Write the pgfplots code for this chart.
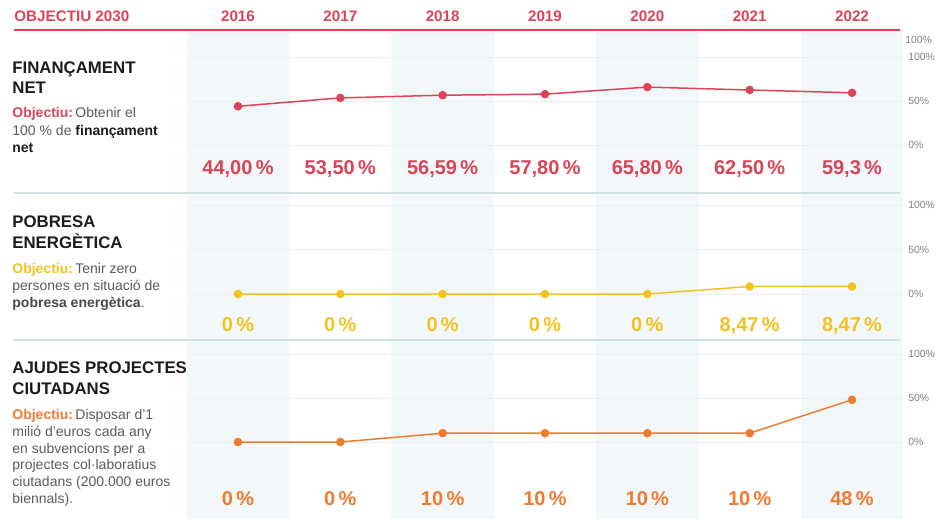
\documentclass[border=0pt]{standalone}
\usepackage{fontspec}
\setmainfont{Liberation Sans}
\usepackage{pgfplots}
\pgfplotsset{compat=1.18}
\definecolor{cred}{HTML}{DC4357}
\definecolor{cyel}{HTML}{F4C21F}
\definecolor{cora}{HTML}{EE7B2F}
\definecolor{band}{HTML}{F2F8F9}
\definecolor{sep}{HTML}{CFE3E4}
\definecolor{txt}{HTML}{5A5A5A}
\definecolor{ttl}{HTML}{1C1C1C}
\definecolor{grd}{HTML}{EBEFEF}
\pgfplotsset{
  panel/.style={scale only axis, width=358.2pt, xmin=-0.5, xmax=6.5, ymin=0, ymax=100,
    anchor=south west, clip=false, axis line style={draw=none}, xtick=\empty,
    ytick={0,50,100}, yticklabels={0\%,50\%,100\%}, yticklabel pos=right,
    major tick length=0pt, ymajorgrids, grid style={grd, line width=0.4pt},
    yticklabel style={font=\fontsize{5.2}{6}\selectfont, text=gray, anchor=west, xshift=-1pt}}
}
\tikzset{val/.style={anchor=base, font=\bfseries\fontsize{10}{12}\selectfont}}
\newcommand{\ttlfont}{\bfseries\fontsize{8.4}{10}\selectfont\color{ttl}}
\newcommand{\dscfont}{\fontsize{7}{8}\selectfont\color{txt}}
\begin{document}
\begin{tikzpicture}[x=0.5pt,y=-0.5pt]
\path[use as bounding box] (0,0) rectangle (936,519);

% background column bands and year headers
\begin{axis}[at={(93.4pt,-259.5pt)}, anchor=south west, scale only axis, width=358.2pt, height=244.5pt,
  xmin=-0.5, xmax=6.5, ymin=0, ymax=1, axis line style={draw=none}, ytick=\empty,
  xtick={0,1,2,3,4,5,6}, xticklabels={2016,2017,2018,2019,2020,2021,2022},
  xticklabel pos=upper, major tick length=0pt,
  xticklabel style={font=\bfseries\fontsize{7.6}{8}\selectfont, text=cred, anchor=base, yshift=4pt}]
\addplot[ybar, bar width=1, fill=band, draw=none] coordinates {(0,1) (2,1) (4,1) (6,1)};
\end{axis}

\node[anchor=base west, inner sep=0pt, text=cred, font=\bfseries\fontsize{7.6}{8}\selectfont] at (14,22) {OBJECTIU 2030};
\draw[cred, line width=0.9pt] (14,30) -- (900,30);
\draw[sep, line width=0.8pt] (14,193) -- (900,193);
\draw[sep, line width=0.8pt] (14,340) -- (900,340);

% Panel 1
\begin{axis}[panel, at={(93.4pt,-72.5pt)}, height=44pt]
\addplot[cred, line width=0.75pt, mark=*, mark size=1.75pt]
  coordinates {(0,44.00) (1,53.50) (2,56.59) (3,57.80) (4,65.80) (5,62.50) (6,59.3)};
\node[val, text=cred] at (axis cs:0,-34) {44,00\,\%};
\node[val, text=cred] at (axis cs:1,-34) {53,50\,\%};
\node[val, text=cred] at (axis cs:2,-34) {56,59\,\%};
\node[val, text=cred] at (axis cs:3,-34) {57,80\,\%};
\node[val, text=cred] at (axis cs:4,-34) {65,80\,\%};
\node[val, text=cred] at (axis cs:5,-34) {62,50\,\%};
\node[val, text=cred] at (axis cs:6,-34) {59,3\,\%};
\node[anchor=west, inner sep=0pt, text=gray, font=\fontsize{5.2}{6}\selectfont] at (axis cs:6.5,119) {\,100\%};
\end{axis}

% Panel 2
\begin{axis}[panel, at={(93.4pt,-147pt)}, height=44.5pt]
\addplot[cyel, line width=0.75pt, mark=*, mark size=1.75pt]
  coordinates {(0,0) (1,0) (2,0) (3,0) (4,0) (5,8.47) (6,8.47)};
\node[val, text=cyel] at (axis cs:0,-41.6) {0\,\%};
\node[val, text=cyel] at (axis cs:1,-41.6) {0\,\%};
\node[val, text=cyel] at (axis cs:2,-41.6) {0\,\%};
\node[val, text=cyel] at (axis cs:3,-41.6) {0\,\%};
\node[val, text=cyel] at (axis cs:4,-41.6) {0\,\%};
\node[val, text=cyel] at (axis cs:5,-41.6) {8,47\,\%};
\node[val, text=cyel] at (axis cs:6,-41.6) {8,47\,\%};
\end{axis}

% Panel 3
\begin{axis}[panel, at={(93.4pt,-221pt)}, height=44pt]
\addplot[cora, line width=0.75pt, mark=*, mark size=1.75pt]
  coordinates {(0,0) (1,0) (2,10) (3,10) (4,10) (5,10) (6,48)};
\node[val, text=cora] at (axis cs:0,-71.6) {0\,\%};
\node[val, text=cora] at (axis cs:1,-71.6) {0\,\%};
\node[val, text=cora] at (axis cs:2,-71.6) {10\,\%};
\node[val, text=cora] at (axis cs:3,-71.6) {10\,\%};
\node[val, text=cora] at (axis cs:4,-71.6) {10\,\%};
\node[val, text=cora] at (axis cs:5,-71.6) {10\,\%};
\node[val, text=cora] at (axis cs:6,-71.6) {48\,\%};
\end{axis}

% left texts
\begin{scope}[every node/.style={anchor=base west, inner sep=0pt}]
\node[font=\ttlfont] at (12,74) {FINANÇAMENT};
\node[font=\ttlfont] at (12,94) {NET};
\node[font=\dscfont] at (12,118) {{\bfseries\color{cred}Objectiu:}\,Obtenir el};
\node[font=\dscfont] at (12,135) {100 \% de {\bfseries\color{ttl}finançament}};
\node[font=\dscfont] at (12,152) {{\bfseries\color{ttl}net}};

\node[font=\ttlfont] at (12,227) {POBRESA};
\node[font=\ttlfont] at (12,248) {ENERGÈTICA};
\node[font=\dscfont] at (12,273) {{\bfseries\color{cyel}Objectiu:}\,Tenir zero};
\node[font=\dscfont] at (12,290) {persones en situació de};
\node[font=\dscfont] at (12,307) {{\bfseries\color{ttl!80}pobresa energètica}.};

\node[font=\ttlfont] at (12,373) {AJUDES PROJECTES};
\node[font=\ttlfont] at (12,394) {CIUTADANS};
\node[font=\dscfont] at (12,419) {{\bfseries\color{cora}Objectiu:}\,Disposar d'1};
\node[font=\dscfont] at (12,436) {milió d'euros cada any};
\node[font=\dscfont] at (12,453) {en subvencions per a};
\node[font=\dscfont] at (12,469) {projectes col·laboratius};
\node[font=\dscfont] at (12,486) {ciutadans (200.000 euros};
\node[font=\dscfont] at (12,503) {biennals).};
\end{scope}
\end{tikzpicture}
\end{document}
